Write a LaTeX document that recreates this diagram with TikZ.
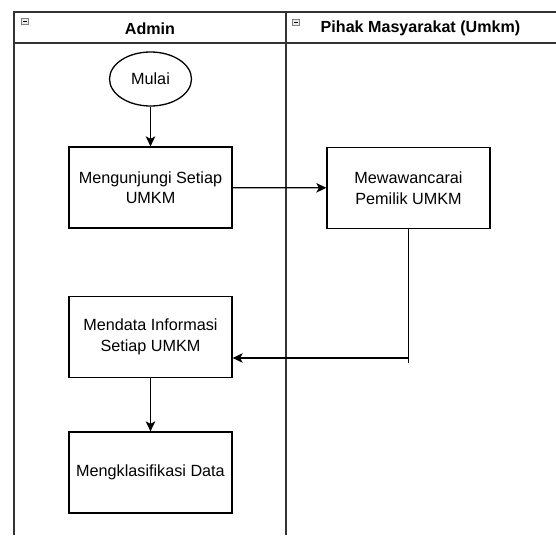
\documentclass[tikz,border=0pt]{standalone}
\usepackage{fontspec}
\setmainfont{Liberation Sans}
\usetikzlibrary{arrows.meta,shapes.geometric,positioning}
\definecolor{LaneClr}{rgb}{0.2,0.2,0.2}
\definecolor{IconClr}{rgb}{0.5,0.5,0.5}

\begin{document}
\begin{tikzpicture}[x=1pt,y=-1pt,
  lane/.style={line width=1.3pt,color=LaneClr},
  title/.style={font=\fontsize{16.1}{19}\selectfont\bfseries,inner sep=0pt},
  proc/.style={draw,line width=1.3pt,minimum width=163pt,minimum height=81pt,
    align=center,inner sep=0pt,font=\fontsize{16.2}{20.5}\selectfont},
  start/.style={draw,ellipse,line width=1.3pt,minimum width=82pt,minimum height=54pt,
    inner sep=0pt,font=\fontsize{16.2}{20}\selectfont},
  flow/.style={line width=1.3pt,-{Stealth[length=10pt,width=9.5pt,inset=2.5pt]}},
  icon/.style={draw=IconClr,fill=black!8,line width=0.8pt}]
\useasboundingbox (0,0) rectangle (556,535);

% swimlanes
\draw[lane] (556,12) -- (14,12) -- (14,535);
\draw[lane] (14,43) -- (556,43);
\draw[lane] (286,12) -- (286,535);
\draw[icon] (21.5,18) rectangle (28,24.5);
\draw[line width=0.9pt] (23,21.25) -- (26.5,21.25);
\draw[icon] (292.5,19) rectangle (299,25.5);
\draw[line width=0.9pt] (294,22.25) -- (297.5,22.25);
\node[title] (lane1) at (150,28.5) {Admin};
\node[title] (lane2) at (420.5,28.5) {Pihak Masyarakat (Umkm)};

% steps
\node[start] (mulai) at (150.5,79) {Mulai};
\node[proc] (kunjung) at (150.5,187.5) {Mengunjungi Setiap\\UMKM};
\node[proc] (wawancara) at (408.5,188) {Mewawancarai\\Pemilik UMKM};
\node[proc] (mendata) at (150.5,337) {Mendata Informasi\\Setiap UMKM};
\node[proc] (klasifikasi) at (150.5,472.5) {Mengklasifikasi Data};

\coordinate (bend) at (408.5,358);
\coordinate (tail) at (408.5,363);

\draw[flow] (mulai) -- (kunjung);
\draw[flow] (kunjung) -- (wawancara);
\draw[line width=1.3pt] (wawancara.south) -- (tail);
\draw[flow] (bend) -- (mendata.east |- bend);
\draw[flow] (mendata) -- (klasifikasi);

\end{tikzpicture}
\end{document}
